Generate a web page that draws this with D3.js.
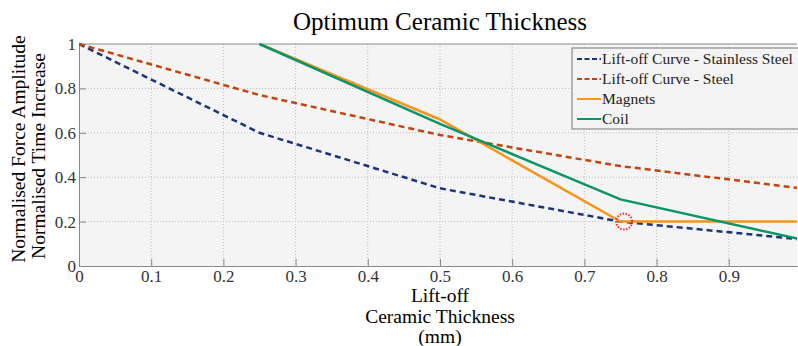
<!DOCTYPE html>
<html>
<head>
<meta charset="utf-8">
<script src="https://cdn.jsdelivr.net/npm/d3@7"></script>
<style>
  body { margin: 0; background: #fff; }
  text { font-family: "Liberation Serif", "DejaVu Serif", serif; }
</style>
</head>
<body>
<div id="chart"></div>
<script>
// data
const liftoff = [0, 0.25, 0.5, 0.75, 1];
const stainless = [1, 0.6, 0.35, 0.2, 0.12];
const steel = [1, 0.77, 0.59, 0.45, 0.35];
const magnetX = [0.25, 0.5, 0.75, 1];
const magnets = [1, 0.66, 0.2, 0.2];
const coilX = [0.25, 0.5, 0.75, 1];
const coil = [1, 0.64, 0.3, 0.12];
const xTicks = [0, 0.1, 0.2, 0.3, 0.4, 0.5, 0.6, 0.7, 0.8, 0.9];
const yTicks = [0, 0.2, 0.4, 0.6, 0.8, 1];
const marked = [0.755, 0.2];

const W = 798, H = 346;
const m = { left: 79, right: 1, top: 44, bottom: 80 };

const svg = d3.select("#chart")
    .append("svg")
    .attr("width", W)
    .attr("height", H);

const x = d3.scaleLinear().domain([0, 0.9945]).range([m.left, W - m.right]);
const y = d3.scaleLinear().domain([0, 1]).range([H - m.bottom, m.top]);

svg.append("rect")
    .attr("x", m.left).attr("y", m.top)
    .attr("width", W - m.right - m.left)
    .attr("height", H - m.bottom - m.top)
    .attr("fill", "#f4f4f4");

// grid
svg.append("g").selectAll("line")
    .data(xTicks.slice(1))
    .enter().append("line")
    .attr("x1", d => x(d)).attr("x2", d => x(d))
    .attr("y1", m.top).attr("y2", H - m.bottom)
    .attr("stroke", "#bbb").attr("stroke-dasharray", "1,2");

svg.append("g").selectAll("line")
    .data(yTicks.slice(1, -1))
    .enter().append("line")
    .attr("x1", m.left).attr("x2", W - m.right)
    .attr("y1", d => y(d)).attr("y2", d => y(d))
    .attr("stroke", "#bbb").attr("stroke-dasharray", "1,2");

// axes
const xAxis = svg.append("g")
    .attr("transform", `translate(0,${H - m.bottom})`)
    .call(d3.axisBottom(x).tickValues(xTicks).tickSize(0).tickPadding(4).tickFormat(d3.format("")));
xAxis.select(".domain").attr("stroke", "#888");
xAxis.selectAll("text").attr("font-size", 17).attr("fill", "#333")
    .attr("font-family", "Liberation Serif");
xAxis.selectAll(".tick").append("line")
    .attr("y1", 0).attr("y2", -7).attr("stroke", "#888");

const yAxis = svg.append("g")
    .attr("transform", `translate(${m.left},0)`)
    .call(d3.axisLeft(y).tickValues(yTicks).tickSize(0).tickPadding(3).tickFormat(d3.format("")));
yAxis.select(".domain").attr("stroke", "#888");
yAxis.selectAll("text").attr("font-size", 17).attr("fill", "#333")
    .attr("font-family", "Liberation Serif");
yAxis.selectAll(".tick").append("line")
    .attr("x1", 0).attr("x2", 7).attr("stroke", "#888");

// top border
svg.append("line")
    .attr("x1", m.left).attr("x2", W - m.right)
    .attr("y1", m.top).attr("y2", m.top)
    .attr("stroke", "#888");

svg.append("clipPath").attr("id", "clip")
    .append("rect")
    .attr("x", m.left).attr("y", m.top - 2)
    .attr("width", W - m.right - m.left)
    .attr("height", H - m.bottom - m.top + 4);

const series = [
    { name: "Lift-off Curve - Stainless Steel", xs: liftoff, ys: stainless, color: "#1b3579", dash: "6,4" },
    { name: "Lift-off Curve - Steel", xs: liftoff, ys: steel, color: "#c1450f", dash: "6,4" },
    { name: "Magnets", xs: magnetX, ys: magnets, color: "#f7941d", dash: null },
    { name: "Coil", xs: coilX, ys: coil, color: "#0a9467", dash: null }
];

const line = d3.line().x(d => x(d[0])).y(d => y(d[1]));
const g = svg.append("g").attr("clip-path", "url(#clip)");
series.forEach(s => {
    g.append("path")
        .datum(s.xs.map((v, i) => [v, s.ys[i]]))
        .attr("d", line)
        .attr("fill", "none")
        .attr("stroke", s.color)
        .attr("stroke-width", 2.5)
        .attr("stroke-dasharray", s.dash);
});

svg.append("circle")
    .attr("cx", x(marked[0])).attr("cy", y(marked[1]))
    .attr("r", 8)
    .attr("fill", "none")
    .attr("stroke", "#e8302a")
    .attr("stroke-width", 2)
    .attr("stroke-dasharray", "1.5,1.5");

// legend
const lg = svg.append("g").attr("transform", "translate(572,48)");
lg.append("rect")
    .attr("width", 230).attr("height", 81)
    .attr("fill", "#f4f4f4").attr("stroke", "#777");
series.forEach((s, i) => {
    const yy = 11 + i * 20;
    lg.append("line")
        .attr("x1", 5).attr("x2", 29)
        .attr("y1", yy).attr("y2", yy)
        .attr("stroke", s.color).attr("stroke-width", 2)
        .attr("stroke-dasharray", s.dash ? "5,2.5" : null);
    lg.append("text")
        .attr("x", 30).attr("y", yy + 5)
        .attr("font-size", 15.5).attr("fill", "#222")
        .text(s.name);
});

// titles
svg.append("text")
    .attr("x", 440).attr("y", 30)
    .attr("text-anchor", "middle")
    .attr("font-size", 25)
    .text("Optimum Ceramic Thickness");

const xl = ["Lift-off", "Ceramic Thickness", "(mm)"];
svg.append("g").selectAll("text")
    .data(xl).enter().append("text")
    .attr("x", 440).attr("y", (d, i) => 302 + i * 20.5)
    .attr("text-anchor", "middle")
    .attr("font-size", 19.5)
    .text(d => d);

const yl = ["Normalised Force Amplitude", "Normalised Time Increase"];
const ylc = [149, 156];
svg.append("g").selectAll("text")
    .data(yl).enter().append("text")
    .attr("transform", (d, i) => `translate(${25 + i * 20},${ylc[i]}) rotate(-90)`)
    .attr("text-anchor", "middle")
    .attr("font-size", 19.5)
    .text(d => d);
</script>
</body>
</html>
